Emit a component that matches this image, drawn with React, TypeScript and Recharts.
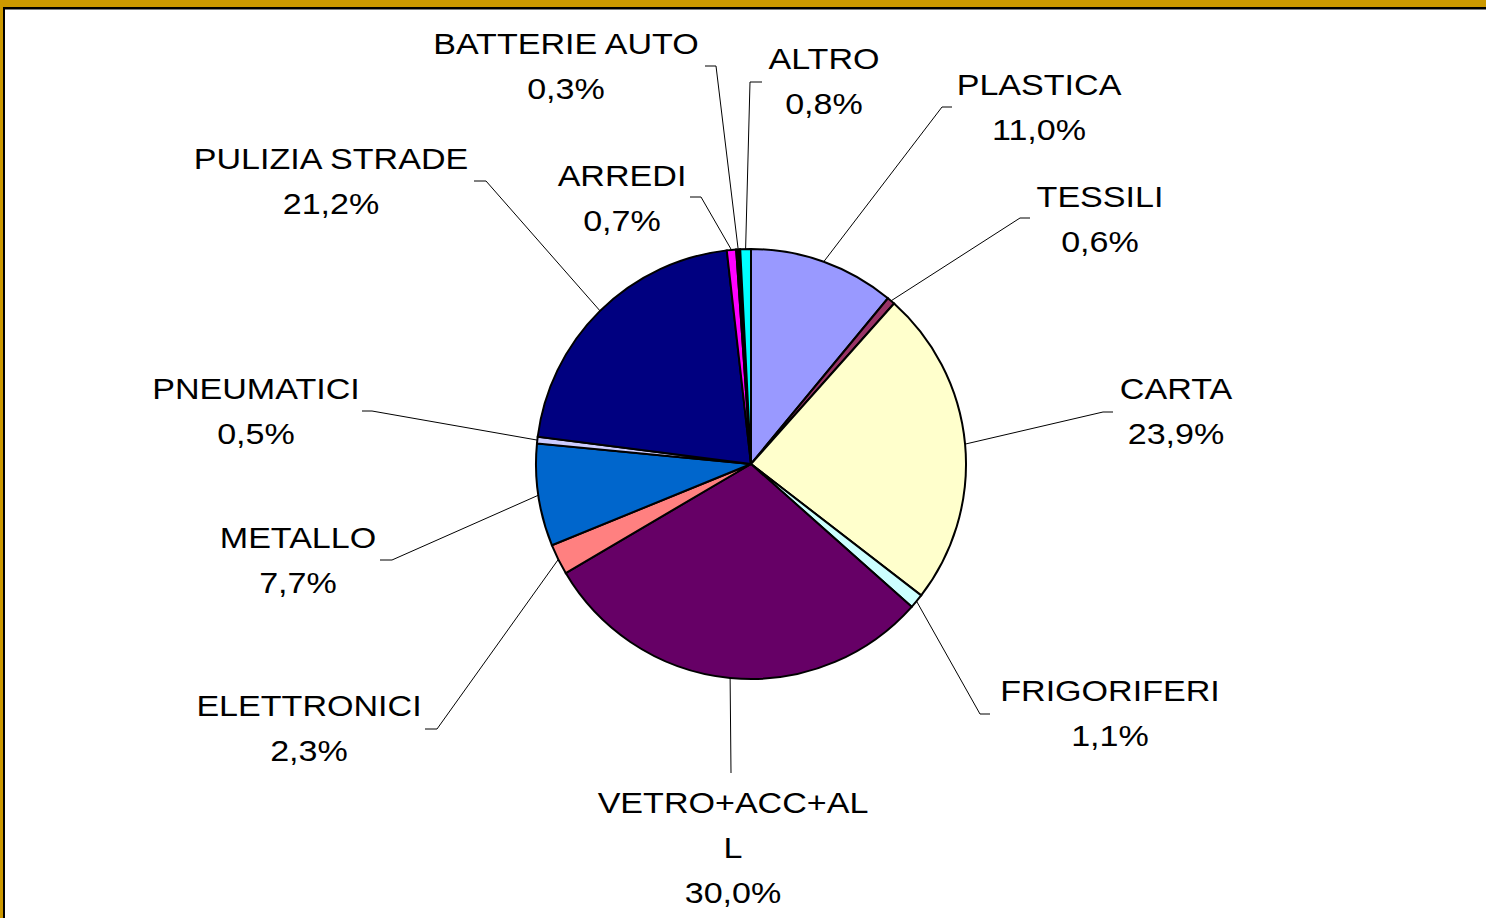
import React from "react";
import { PieChart, Pie, Cell } from "recharts";

const categories = [
  "PLASTICA",
  "TESSILI",
  "CARTA",
  "FRIGORIFERI",
  "VETRO+ACC+ALL",
  "ELETTRONICI",
  "METALLO",
  "PNEUMATICI",
  "PULIZIA STRADE",
  "ARREDI",
  "BATTERIE AUTO",
  "ALTRO",
];

const shares = [11.0, 0.6, 23.9, 1.1, 30.0, 2.3, 7.7, 0.5, 21.2, 0.7, 0.3, 0.8];

const colors = [
  "#9999FF",
  "#993366",
  "#FFFFCC",
  "#CCFFFF",
  "#660066",
  "#FF8080",
  "#0066CC",
  "#CCCCFF",
  "#000080",
  "#FF00FF",
  "#000000",
  "#00FFFF",
];

// label layout: elbow point, tail end, text centre x, first line y (relative to reference centre)
const CX = 751;
const CY = 464;
const labelLayout = [
  { ex: 942, ey: 107, tx2: 952, ty2: 107, tx: 1039, ty: 85 },
  { ex: 1020, ey: 218, tx2: 1030, ty2: 218, tx: 1100, ty: 197 },
  { ex: 1103, ey: 412, tx2: 1113, ty2: 412, tx: 1176, ty: 389 },
  { ex: 980, ey: 714, tx2: 990, ty2: 714, tx: 1110, ty: 691 },
  { ex: 731, ey: 773, tx2: 731, ty2: 773, tx: 733, ty: 803, wrap: 12 },
  { ex: 437, ey: 729, tx2: 425, ty2: 729, tx: 309, ty: 706 },
  { ex: 392, ey: 560, tx2: 380, ty2: 560, tx: 298, ty: 538 },
  { ex: 372, ey: 411, tx2: 362, ty2: 411, tx: 256, ty: 389 },
  { ex: 486, ey: 181, tx2: 474, ty2: 181, tx: 331, ty: 159 },
  { ex: 701, ey: 197, tx2: 690, ty2: 197, tx: 622, ty: 176 },
  { ex: 716, ey: 66, tx2: 705, ty2: 66, tx: 566, ty: 44 },
  { ex: 750, ey: 82, tx2: 762, ty2: 82, tx: 824, ty: 59 },
];

const data = categories.map((name, i) => ({ name, value: shares[i] }));

const RAD = Math.PI / 180;
const LINE_H = 45;

const renderLabel = (props: any) => {
  const { cx, cy, midAngle, outerRadius, index, name, value } = props;
  const L = labelLayout[index];
  if (!L) return null;
  const dx = cx - CX;
  const dy = cy - CY;
  const sx = cx + outerRadius * Math.cos(-midAngle * RAD);
  const sy = cy + outerRadius * Math.sin(-midAngle * RAD);
  const lines: string[] = [];
  if (L.wrap && name.length > L.wrap) {
    lines.push(name.slice(0, L.wrap));
    lines.push(name.slice(L.wrap));
  } else {
    lines.push(name);
  }
  lines.push(value.toFixed(1).replace(".", ",") + "%");
  const tx = L.tx + dx;
  return (
    <g>
      <polyline
        points={`${sx},${sy} ${L.ex + dx},${L.ey + dy} ${L.tx2 + dx},${L.ty2 + dy}`}
        fill="none"
        stroke="#000"
        strokeWidth={1}
      />
      {lines.map((ln, k) => {
        const ty = L.ty + dy + k * LINE_H;
        return (
          <text
            key={k}
            x={0}
            y={0}
            transform={`translate(${tx},${ty}) scale(1.155,1)`}
            textAnchor="middle"
            dominantBaseline="central"
            fontFamily="'Liberation Sans', Arial, sans-serif"
            fontSize={29.5}
            fill="#000"
          >
            {ln}
          </text>
        );
      })}
    </g>
  );
};

export default function App() {
  return (
    <div
      style={{
        position: "absolute",
        left: 0,
        top: 0,
        width: 1486,
        height: 918,
        background: "#CC9900",
        overflow: "hidden",
      }}
    >
      <div
        style={{
          position: "absolute",
          left: 3,
          top: 7,
          right: 0,
          bottom: 0,
          background: "#fff",
          borderLeft: "2px solid #000",
          borderTop: "2px solid #000",
          boxShadow: "inset 0 1px 0 #808080",
        }}
      />
      <div style={{ position: "absolute", left: 0, top: 0 }}>
        <PieChart width={1486} height={918} margin={{ top: 0, right: 0, bottom: 0, left: 0 }}>
          <Pie
            data={data}
            dataKey="value"
            nameKey="name"
            cx={CX}
            cy={CY}
            outerRadius={215}
            startAngle={90}
            endAngle={-270}
            stroke="#000"
            strokeWidth={2}
            label={renderLabel}
            labelLine={false}
            isAnimationActive={false}
          >
            {data.map((d, i) => (
              <Cell key={d.name} fill={colors[i]} stroke="#000" strokeWidth={2} />
            ))}
          </Pie>
        </PieChart>
      </div>
    </div>
  );
}
